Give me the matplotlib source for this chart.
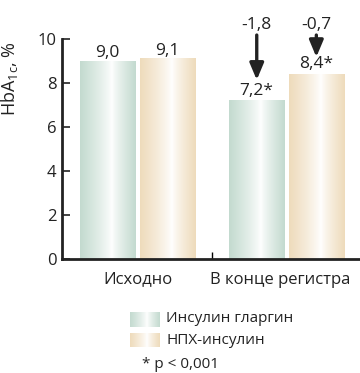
import numpy as np
import matplotlib.pyplot as plt
import matplotlib.transforms as mtransforms
from matplotlib.colors import to_rgb

plt.rcParams['font.family'] = ['Open Sans', 'DejaVu Sans']
plt.rcParams['mathtext.fontset'] = 'custom'
plt.rcParams['mathtext.rm'] = 'Open Sans'

groups = ['Исходно', 'В конце регистра']
series = ['Инсулин гларгин', 'НПХ-инсулин']
glargine = [9.0, 7.2]
nph = [9.1, 8.4]
value_labels = [['9,0', '7,2*'], ['9,1', '8,4*']]
changes = ['-1,8', '-0,7']
footnote = '* p < 0,001'

edge_colors = ['#c3dacf', '#eedbbb']
ink = '#222222'


def gradient(color, n=200, peak=0.57):
    # horizontal shading: coloured edges, white band a bit right of centre
    t = np.linspace(0, 1, n)
    d = np.where(t < peak, (peak - t) / peak, (t - peak) / (1 - peak))
    w = np.clip(d, 0, 1) ** 0.8
    c = np.array(to_rgb(color))
    img = (1 - w[:, None]) * np.ones(3) + w[:, None] * c
    return img[None, :, :]


fig = plt.figure(figsize=(3.6, 3.73), dpi=100)
ax = fig.add_axes([62 / 360, 1 - 259 / 373, 298 / 360, 220 / 373])

x = np.arange(len(groups))
width = 0.37
offset = 0.2
for vals, col, sh in [(glargine, edge_colors[0], -offset), (nph, edge_colors[1], offset)]:
    bars = ax.bar(x + sh, vals, width, color='none', edgecolor='none', zorder=2)
    for b in bars:
        x0, h = b.get_x(), b.get_height()
        ax.imshow(gradient(col), extent=(x0, x0 + b.get_width(), 0, h),
                  aspect='auto', zorder=2, interpolation='bilinear')

ax.set_xlim(-0.507, 1.493)
ax.set_ylim(0, 10)

# value labels
gaps = [0.18, 0.27]
for i in range(len(groups)):
    ax.text(x[i] - offset, glargine[i] + gaps[i], value_labels[0][i], ha='center',
            va='baseline', fontsize=12.5, color=ink)
    ax.text(x[i] + offset, nph[i] + gaps[i], value_labels[1][i], ha='center',
            va='baseline', fontsize=12.5, color=ink)

# change arrows over the second group
arrow_top = 10.18
arrow_tips = [8.14, 9.18]
for j, (sh, lab) in enumerate(zip([-offset, offset], changes)):
    xc = x[1] + sh
    ax.annotate('', xy=(xc, arrow_tips[j]), xytext=(xc, arrow_top),
                arrowprops=dict(arrowstyle='-|>,head_width=0.42,head_length=1.0',
                                mutation_scale=10, color=ink, lw=2.4,
                                shrinkA=0, shrinkB=0),
                annotation_clip=False)
    ax.text(xc, 10.45, lab, ha='center', va='baseline', fontsize=12.5, color=ink,
            clip_on=False)

for s in ['top', 'right']:
    ax.spines[s].set_visible(False)
for s in ['left', 'bottom']:
    ax.spines[s].set_linewidth(2)
    ax.spines[s].set_color(ink)
ax.spines['bottom'].set_zorder(3)

ax.set_yticks(np.arange(0, 11, 2))
ax.tick_params(axis='y', direction='in', length=6, width=1.2, labelsize=12,
               colors=ink, pad=4)
ax.set_xticks(x)
ax.set_xticklabels(groups, fontsize=12)
ax.tick_params(axis='x', length=0, pad=9, colors=ink)
ax.set_xticks([0.5], minor=True)
ax.tick_params(axis='x', which='minor', direction='in', length=5, width=1)

# pull the long right-hand label back inside the figure
last = ax.get_xticklabels()[-1]
last.set_transform(last.get_transform() +
                   mtransforms.ScaledTranslation(-6 / 100, 0, fig.dpi_scale_trans))

ax.set_ylabel('HbA$_{\\mathrm{1c}}$, %', fontsize=13, color=ink)
ax.yaxis.set_label_coords(-0.142, 0.82)

# legend swatches
rows_y = [319, 340]
for lab, col, yy in zip(series, edge_colors, rows_y):
    sw = fig.add_axes([130 / 360, 1 - (yy + 7.5) / 373, 30 / 360, 15 / 373])
    sw.imshow(gradient(col), aspect='auto', extent=(0, 1, 0, 1), interpolation='bilinear')
    sw.axis('off')
    fig.text(166 / 360, 1 - yy / 373, lab, ha='left', va='center', fontsize=11,
             color=ink)
fig.text(142 / 360, 1 - 364 / 373, footnote, ha='left', va='center', fontsize=11,
         color=ink)

fig.savefig('out.png', dpi=100)
